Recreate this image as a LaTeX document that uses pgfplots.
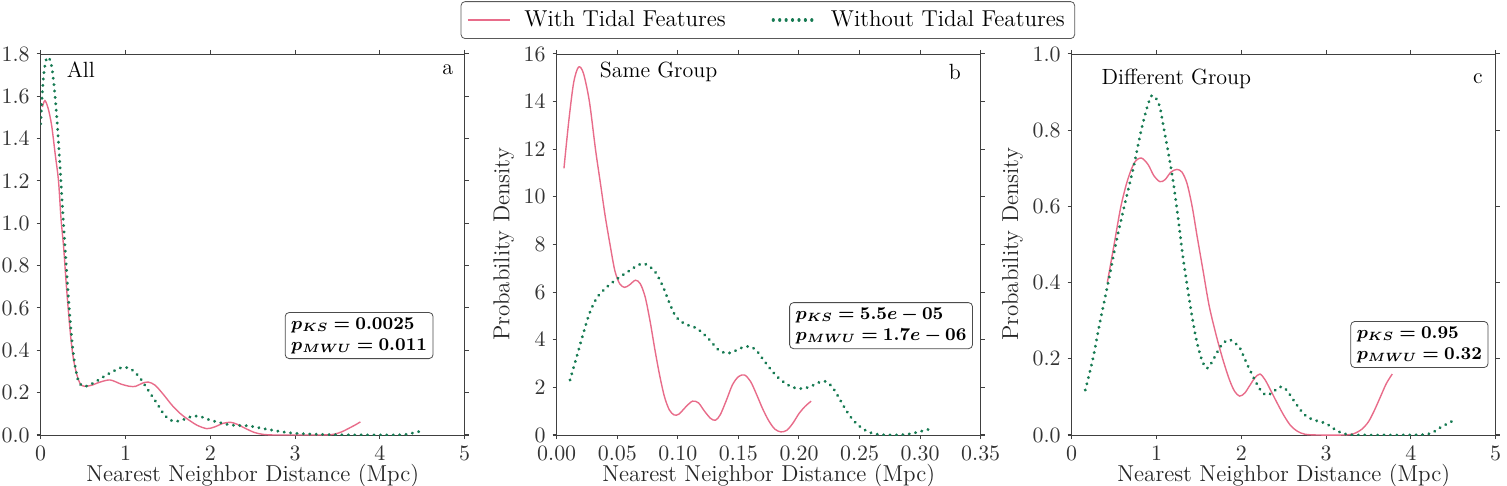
\documentclass[border=0pt]{standalone}
\usepackage{pgfplots}
\pgfplotsset{compat=1.18}
\usepackage{bm}
\definecolor{pinkc}{RGB}{232,108,138}
\definecolor{greenc}{RGB}{22,122,82}
\tikzset{
  stat/.style={draw=black!70, rounded corners=2pt, fill=white, align=left, inner xsep=3pt, inner ysep=2.5pt, font=\fontsize{9}{10.5}\selectfont},
  lab/.style={font=\fontsize{11}{13}\selectfont},
}
\pgfplotsset{
  myax/.style={
    scale only axis, width=212pt, height=190.5pt, anchor=south west,
    axis line style={draw=black!75}, tick style={draw=black!75, line width=0.5pt},
    tick align=outside, major tick length=2pt,
    ticklabel style={font=\fontsize{10.5}{12}\selectfont, text=black!80},
    label style={font=\fontsize{11.5}{13}\selectfont, text=black!85},
    xlabel={Nearest Neighbor Distance (Mpc)}, ylabel={Probability Density},
    xlabel style={yshift=5pt},
    ylabel style={yshift=-2pt},
    clip=true,
  },
  withs/.style={pinkc, line width=0.7pt, smooth, tension=0.5},
  withouts/.style={greenc, line width=1.6pt, line cap=round, dash pattern=on 0.01pt off 3.2pt, smooth, tension=0.5},
}
\begin{document}
\begin{tikzpicture}
\useasboundingbox (0,0) rectangle (753.5pt,243pt);
% ---------- panel a ----------
\begin{axis}[myax, at={(20.35pt,25.5pt)},
  xmin=0, xmax=5, ymin=0, ymax=1.8,
  xtick={0,1,2,3,4,5}, ytick={0,0.2,...,1.8},
  yticklabel style={/pgf/number format/.cd, fixed, fixed zerofill, precision=1},
]
\addplot[withs] coordinates {
(0.02,1.55)(0.05,1.58)(0.09,1.54)(0.13,1.46)(0.17,1.33)(0.21,1.20)(0.24,1.02)(0.27,0.89)
(0.30,0.72)(0.33,0.57)(0.36,0.44)(0.39,0.35)(0.43,0.28)(0.47,0.24)(0.52,0.23)(0.60,0.235)
(0.70,0.25)(0.82,0.26)(0.95,0.24)(1.05,0.23)(1.12,0.23)(1.20,0.245)(1.27,0.25)(1.35,0.235)
(1.45,0.19)(1.55,0.14)(1.65,0.10)(1.75,0.07)(1.85,0.045)(1.96,0.03)(2.05,0.038)(2.15,0.055)
(2.24,0.06)(2.32,0.05)(2.42,0.03)(2.52,0.012)(2.62,0.003)(2.75,0.0)(3.00,0.0)(3.30,0.0)
(3.45,0.003)(3.55,0.015)(3.65,0.035)(3.72,0.05)(3.77,0.062)};
\addplot[withouts] coordinates {
(0.00,1.47)(0.02,1.62)(0.04,1.72)(0.07,1.78)(0.10,1.78)(0.13,1.74)(0.16,1.64)(0.19,1.50)
(0.22,1.32)(0.25,1.12)(0.28,0.93)(0.31,0.75)(0.34,0.58)(0.37,0.44)(0.40,0.34)(0.44,0.26)
(0.48,0.235)(0.53,0.23)(0.62,0.245)(0.72,0.27)(0.85,0.30)(0.97,0.32)(1.07,0.31)(1.17,0.27)
(1.27,0.21)(1.37,0.15)(1.45,0.10)(1.53,0.07)(1.61,0.065)(1.70,0.075)(1.80,0.09)(1.90,0.085)
(2.00,0.07)(2.10,0.06)(2.20,0.05)(2.30,0.045)(2.40,0.045)(2.50,0.04)(2.60,0.032)(2.70,0.025)
(2.80,0.018)(2.90,0.012)(3.00,0.008)(3.20,0.004)(3.50,0.001)(4.00,0.0)(4.25,0.001)(4.35,0.006)(4.46,0.016)};
\node[lab, anchor=west] at (rel axis cs:0.045,0.958) {All};
\node[lab] at (rel axis cs:0.96,0.958) {a};
\node[stat] at (rel axis cs:0.751,0.261) {$\bm{p_{KS} = 0.0025}$\\$\bm{p_{MWU} = 0.011}$};
\end{axis}
% ---------- panel b ----------
\begin{axis}[myax, at={(278.35pt,25.5pt)},
  xmin=0, xmax=0.35, ymin=0, ymax=16,
  xtick={0,0.05,...,0.35}, ytick={0,2,...,16},
  xticklabel style={/pgf/number format/.cd, fixed, fixed zerofill, precision=2},
  legend columns=2,
  legend style={at={(0.498,1.089)}, anchor=center, draw=black!65, rounded corners=2pt,
    font=\fontsize{11.5}{13}\selectfont, inner xsep=3pt, inner ysep=2.5pt,
    /tikz/column 1/.style={column sep=5pt},
    /tikz/column 2/.style={column sep=21pt},
    /tikz/column 3/.style={column sep=5pt}},
  legend cell align=left,
  legend image code/.code={\draw[#1] (0pt,0pt) -- (21pt,0pt);},
]
\addplot[withs] coordinates {
(0.006,11.2)(0.010,13.2)(0.014,14.8)(0.018,15.45)(0.022,15.2)(0.027,14.0)(0.032,12.0)(0.036,10.6)
(0.040,9.2)(0.044,8.0)(0.048,6.9)(0.052,6.35)(0.056,6.2)(0.060,6.3)(0.065,6.5)(0.069,6.35)
(0.073,5.8)(0.077,4.8)(0.081,3.6)(0.085,2.5)(0.089,1.6)(0.093,1.05)(0.097,0.84)(0.101,0.88)
(0.106,1.15)(0.112,1.42)(0.117,1.35)(0.122,1.0)(0.127,0.7)(0.131,0.62)(0.135,0.85)(0.140,1.45)
(0.145,2.1)(0.150,2.45)(0.155,2.52)(0.160,2.25)(0.165,1.7)(0.170,1.1)(0.175,0.6)(0.180,0.25)
(0.185,0.13)(0.190,0.2)(0.195,0.5)(0.200,0.9)(0.205,1.2)(0.210,1.42)};
\addlegendentry{With Tidal Features}
\addplot[withouts] coordinates {
(0.011,2.31)(0.016,3.2)(0.022,4.27)(0.027,5.1)(0.033,5.75)(0.040,6.15)(0.047,6.45)(0.054,6.7)
(0.060,6.9)(0.066,7.1)(0.071,7.2)(0.076,7.1)(0.082,6.8)(0.088,6.2)(0.093,5.55)(0.098,5.0)
(0.103,4.75)(0.109,4.6)(0.115,4.5)(0.121,4.25)(0.127,3.95)(0.133,3.6)(0.140,3.43)(0.146,3.5)
(0.152,3.65)(0.158,3.72)(0.164,3.6)(0.170,3.2)(0.176,2.8)(0.182,2.45)(0.188,2.2)(0.195,2.0)
(0.203,1.95)(0.210,2.05)(0.217,2.22)(0.222,2.25)(0.227,2.05)(0.232,1.65)(0.237,1.2)(0.242,0.8)
(0.248,0.45)(0.254,0.22)(0.260,0.08)(0.266,0.02)(0.275,0.0)(0.285,0.01)(0.292,0.05)(0.298,0.12)
(0.304,0.2)(0.310,0.27)};
\addlegendentry{Without Tidal Features}
\node[lab, anchor=west] at (rel axis cs:0.085,0.953) {Same Group};
\node[lab] at (rel axis cs:0.939,0.953) {b};
\node[stat] at (rel axis cs:0.765,0.287) {$\bm{p_{KS} = 5.5e-05}$\\$\bm{p_{MWU} = 1.7e-06}$};
\end{axis}
% ---------- panel c ----------
\begin{axis}[myax, at={(535.85pt,25.5pt)},
  xmin=0, xmax=5, ymin=0, ymax=1.0,
  xtick={0,1,2,3,4,5}, ytick={0,0.2,...,1.0},
  yticklabel style={/pgf/number format/.cd, fixed, fixed zerofill, precision=1},
]
\addplot[withs] coordinates {
(0.42,0.40)(0.50,0.50)(0.58,0.60)(0.66,0.67)(0.74,0.715)(0.82,0.727)(0.90,0.71)(0.97,0.68)
(1.04,0.665)(1.10,0.67)(1.17,0.69)(1.24,0.697)(1.30,0.69)(1.36,0.66)(1.42,0.60)(1.48,0.52)
(1.55,0.43)(1.62,0.34)(1.70,0.265)(1.78,0.20)(1.86,0.145)(1.92,0.115)(1.98,0.102)(2.04,0.11)
(2.10,0.13)(2.16,0.15)(2.22,0.16)(2.28,0.145)(2.34,0.12)(2.42,0.085)(2.50,0.052)(2.58,0.025)
(2.66,0.01)(2.75,0.002)(2.90,0.0)(3.20,0.0)(3.32,0.003)(3.42,0.015)(3.50,0.035)(3.57,0.065)
(3.64,0.10)(3.71,0.135)(3.78,0.16)};
\addplot[withouts] coordinates {
(0.16,0.118)(0.25,0.20)(0.33,0.293)(0.43,0.40)(0.53,0.512)(0.63,0.61)(0.73,0.704)(0.81,0.79)
(0.88,0.853)(0.94,0.89)(0.99,0.885)(1.04,0.86)(1.09,0.80)(1.14,0.74)(1.20,0.66)(1.26,0.56)
(1.31,0.47)(1.37,0.38)(1.42,0.31)(1.47,0.25)(1.53,0.2)(1.59,0.175)(1.65,0.19)(1.71,0.215)
(1.78,0.24)(1.86,0.25)(1.93,0.24)(1.98,0.23)(2.06,0.19)(2.14,0.153)(2.22,0.12)(2.29,0.105)
(2.36,0.11)(2.44,0.125)(2.50,0.125)(2.56,0.11)(2.62,0.09)(2.70,0.065)(2.78,0.047)(2.88,0.038)
(3.00,0.03)(3.10,0.015)(3.20,0.004)(3.35,0.0)(3.90,0.0)(4.15,0.001)(4.25,0.006)(4.35,0.02)
(4.45,0.032)(4.51,0.039)};
\node[lab, anchor=west] at (rel axis cs:0.054,0.934) {Different Group};
\node[lab] at (rel axis cs:0.958,0.934) {c};
\node[stat] at (rel axis cs:0.82,0.2375) {$\bm{p_{KS} = 0.95}$\\$\bm{p_{MWU} = 0.32}$};
\end{axis}
\end{tikzpicture}
\end{document}
